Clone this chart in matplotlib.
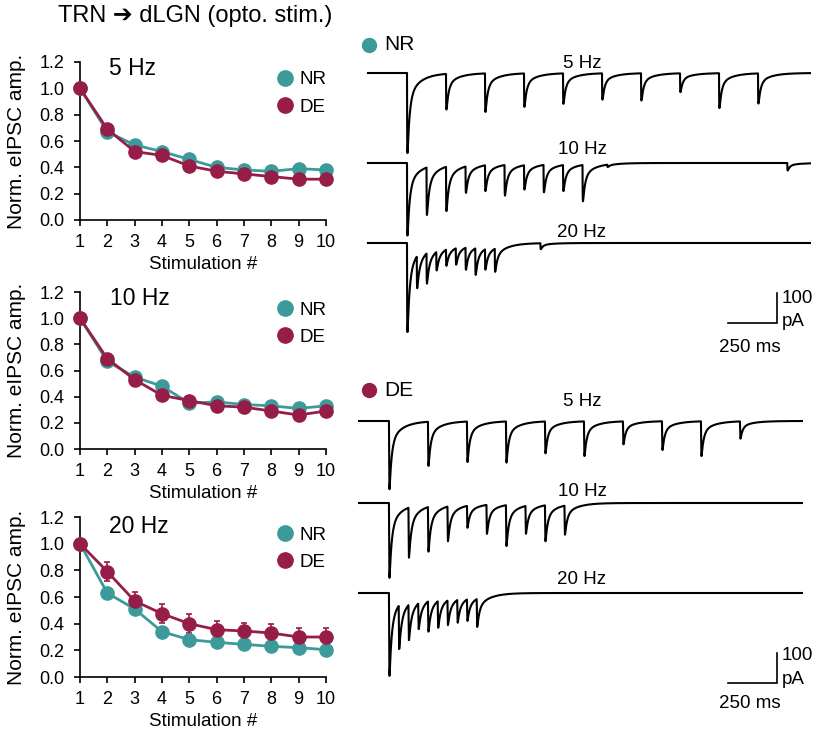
import numpy as np
import matplotlib
matplotlib.use("Agg")
import matplotlib.pyplot as plt
from matplotlib.lines import Line2D

plt.rcParams['font.family'] = ['Liberation Sans', 'DejaVu Sans']

# ---------------- data: normalized eIPSC amplitudes ----------------
stim = [1, 2, 3, 4, 5, 6, 7, 8, 9, 10]
freq_labels = ["5 Hz", "10 Hz", "20 Hz"]

nr_5hz = [1.00, 0.67, 0.57, 0.52, 0.46, 0.40, 0.38, 0.37, 0.39, 0.38]
de_5hz = [1.00, 0.69, 0.52, 0.49, 0.41, 0.37, 0.35, 0.33, 0.31, 0.31]
nr_5hz_err = [0.0, 0.02, 0.02, 0.02, 0.02, 0.02, 0.02, 0.02, 0.02, 0.02]
de_5hz_err = [0.0, 0.03, 0.03, 0.03, 0.03, 0.03, 0.04, 0.03, 0.03, 0.03]

nr_10hz = [1.00, 0.67, 0.55, 0.48, 0.35, 0.36, 0.34, 0.33, 0.31, 0.33]
de_10hz = [1.00, 0.69, 0.53, 0.41, 0.37, 0.33, 0.32, 0.29, 0.26, 0.29]
nr_10hz_err = [0.0, 0.02, 0.02, 0.02, 0.02, 0.02, 0.02, 0.02, 0.02, 0.02]
de_10hz_err = [0.0, 0.03, 0.03, 0.03, 0.03, 0.03, 0.03, 0.03, 0.03, 0.03]

nr_20hz = [1.00, 0.63, 0.51, 0.34, 0.28, 0.26, 0.245, 0.23, 0.22, 0.205]
de_20hz = [1.00, 0.79, 0.57, 0.475, 0.40, 0.355, 0.345, 0.33, 0.30, 0.30]
nr_20hz_err = [0.0, 0.03, 0.02, 0.02, 0.02, 0.02, 0.02, 0.02, 0.02, 0.02]
de_20hz_err = [0.0, 0.07, 0.07, 0.07, 0.07, 0.065, 0.06, 0.07, 0.065, 0.07]

# ---------------- data: example traces (peak eIPSC depth, pA) ----------------
trace_freqs = [5, 10, 20]
nr_peaks_5hz = [267, 122, 130, 113, 103, 89, 92, 64, 117, 102]
nr_peaks_10hz = [242, 174, 161, 100, 94, 109, 89, 98, 94, 128]
nr_peaks_20hz = [297, 153, 137, 93, 77, 73, 90, 107, 90, 97]
de_peaks_5hz = [228, 150, 137, 139, 108, 117, 78, 97, 117, 59]
de_peaks_10hz = [250, 183, 163, 128, 83, 103, 144, 103, 128, 106]
de_peaks_20hz = [277, 189, 159, 122, 130, 117, 108, 100, 94, 114]
# spontaneous events (time ms, amplitude pA)
nr_spont_10hz_t = [1027, 1950]
nr_spont_10hz_a = [8, 25]
nr_spont_20hz_t = [684]
nr_spont_20hz_a = [20]

NR_COLOR = '#3d9a9b'
DE_COLOR = '#961d48'

W, H = 820, 733
fig = plt.figure(figsize=(W / 100, H / 100), dpi=100)


def fx(px):
    return px / W


def fy(py):
    return 1 - py / H


# ---------------- left panels ----------------
panels = [
    (62, 220, nr_5hz, de_5hz, nr_5hz_err, de_5hz_err, (2.92, 1.154)),
    (292, 449, nr_10hz, de_10hz, nr_10hz_err, de_10hz_err, (3.2, 1.154)),
    (517, 677, nr_20hz, de_20hz, nr_20hz_err, de_20hz_err, (3.16, 1.127)),
]
ax_left, ax_right = 80, 326
for i, (top, bot, nr, de, nre, dee, lblpos) in enumerate(panels):
    ax = fig.add_axes([fx(ax_left), fy(bot), fx(ax_right - ax_left), (bot - top) / H])
    for y, e, c in [(nr, nre, NR_COLOR), (de, dee, DE_COLOR)]:
        ax.errorbar(stim, y, yerr=e, color=c, lw=2.0, marker='o', ms=9.5,
                    mec=c, mfc=c, capsize=2.5, elinewidth=1.2, capthick=1.2,
                    clip_on=False, zorder=3)
    ax.set_xlim(1, 10)
    ax.set_ylim(0, 1.2)
    ax.set_xticks(stim)
    ax.set_yticks([0.0, 0.2, 0.4, 0.6, 0.8, 1.0, 1.2])
    ax.set_yticklabels([f"{v:.1f}" for v in [0.0, 0.2, 0.4, 0.6, 0.8, 1.0, 1.2]])
    for s in ['top', 'right']:
        ax.spines[s].set_visible(False)
    for s in ['left', 'bottom']:
        ax.spines[s].set_linewidth(1.2)
    ax.tick_params(axis='both', labelsize=13, length=4, width=1.2)
    ax.tick_params(axis='x', pad=6)
    ax.tick_params(axis='y', pad=7)
    ax.set_xlabel("Stimulation #", fontsize=13.5, labelpad=4)
    ax.set_ylabel("Norm. eIPSC amp.", fontsize=15)
    ax.yaxis.set_label_coords(-0.22, 0.5)
    ax.text(lblpos[0], lblpos[1], freq_labels[i], fontsize=16.5, ha='center', va='center')
    handles = [Line2D([], [], ls='', marker='o', ms=11, color=NR_COLOR, label='NR'),
               Line2D([], [], ls='', marker='o', ms=11, color=DE_COLOR, label='DE')]
    ax.legend(handles=handles, loc='upper right', bbox_to_anchor=(1.04, 1.0),
              frameon=False, fontsize=13.5, handletextpad=0.05, labelspacing=0.55,
              borderpad=0, handlelength=1.4)

fig.text(fx(195), fy(16), "TRN \u2794 dLGN (opto. stim.)", fontsize=17,
         ha='center', va='center')

# ---------------- right: traces ----------------
PX_PER_MS = 0.195
PX_PER_PA = 0.30
TR_L, TR_R, TR_T, TR_B = 352, 820, 30, 733
NR_T0_PX = 407
DE_T0_PX = 389
axr = fig.add_axes([fx(TR_L), fy(TR_B), fx(TR_R - TR_L), (TR_B - TR_T) / H])
axr.set_xlim((TR_L - NR_T0_PX) / PX_PER_MS, (TR_R - NR_T0_PX) / PX_PER_MS)
axr.set_ylim(-(TR_B - TR_T) / PX_PER_PA, 0)
axr.axis('off')


def base_y(px):
    return -(px - TR_T) / PX_PER_PA


def kernel(t, tr=0.8, tf=11.0, ts=60.0, f=0.27):
    tc = np.clip(t, 0, None)
    k = (1 - np.exp(-tc / tr)) * ((1 - f) * np.exp(-tc / tf) + f * np.exp(-tc / ts))
    return np.where(t > 0, k, 0.0)


_tt = np.arange(0, 50, 0.05)
KMAX = kernel(_tt).max()


def build_trace(t, freq, peaks, spont_t=(), spont_a=()):
    cur = np.zeros_like(t)
    onsets = np.arange(len(peaks)) * 1000.0 / freq
    for on, pk in zip(onsets, peaks):
        idx = np.searchsorted(t, on)
        resid = -cur[idx]
        amp = max(pk - resid, 0)
        cur -= amp * kernel(t - on) / KMAX
    for ts_, a in zip(spont_t, spont_a):
        cur -= a * kernel(t - ts_) / KMAX
    return cur


blocks = [
    (NR_T0_PX, 368, 810, [(73, 5, nr_peaks_5hz, (), ()),
                          (163, 10, nr_peaks_10hz, nr_spont_10hz_t, nr_spont_10hz_a),
                          (243, 20, nr_peaks_20hz, nr_spont_20hz_t, nr_spont_20hz_a)],
     [63, 150, 232], 'NR', NR_COLOR, 45, (776.7, 322.7), (298, 321, 348)),
    (DE_T0_PX, 359, 802, [(421, 5, de_peaks_5hz, (), ()),
                          (503, 10, de_peaks_10hz, (), ()),
                          (593, 20, de_peaks_20hz, (), ())],
     [402, 491, 580], 'DE', DE_COLOR, 390, (776.7, 682.7), (656, 679, 704)),
]

for t0px, xs, xe, traces, lbl_y, name, col, name_y, bar_corner, bar_txt in blocks:
    shift = (t0px - NR_T0_PX) / PX_PER_MS
    t = np.arange((xs - t0px) / PX_PER_MS, (xe - t0px) / PX_PER_MS, 0.5)
    for (bpx, fr, pk, st, sa), ly in zip(traces, lbl_y):
        cur = build_trace(t, fr, pk, st, sa)
        axr.plot(t + shift, base_y(bpx) + cur, color='black', lw=1.5,
                 solid_joinstyle='round')
        fig.text(fx(582), fy(ly), f"{fr} Hz", fontsize=13.5, ha='center', va='center')
    # group marker + name
    axr.plot([(369 - NR_T0_PX) / PX_PER_MS], [base_y(name_y)], 'o', ms=10,
             color=col, clip_on=False)
    fig.text(fx(384), fy(name_y), name, fontsize=15, ha='left', va='center')
    # scale bars: 250 ms, 100 pA
    cx = (bar_corner[0] - NR_T0_PX) / PX_PER_MS
    cy = base_y(bar_corner[1])
    axr.plot([cx - 250, cx, cx], [cy, cy, cy + 100], color='black', lw=1.2,
             solid_joinstyle='miter')
    fig.text(fx(782), fy(bar_txt[0]), "100", fontsize=13.5, ha='left', va='center')
    fig.text(fx(782), fy(bar_txt[1]), "pA", fontsize=13.5, ha='left', va='center')
    fig.text(fx(750), fy(bar_txt[2]), "250 ms", fontsize=13.5, ha='center', va='center')

fig.savefig("out.png", dpi=100)
